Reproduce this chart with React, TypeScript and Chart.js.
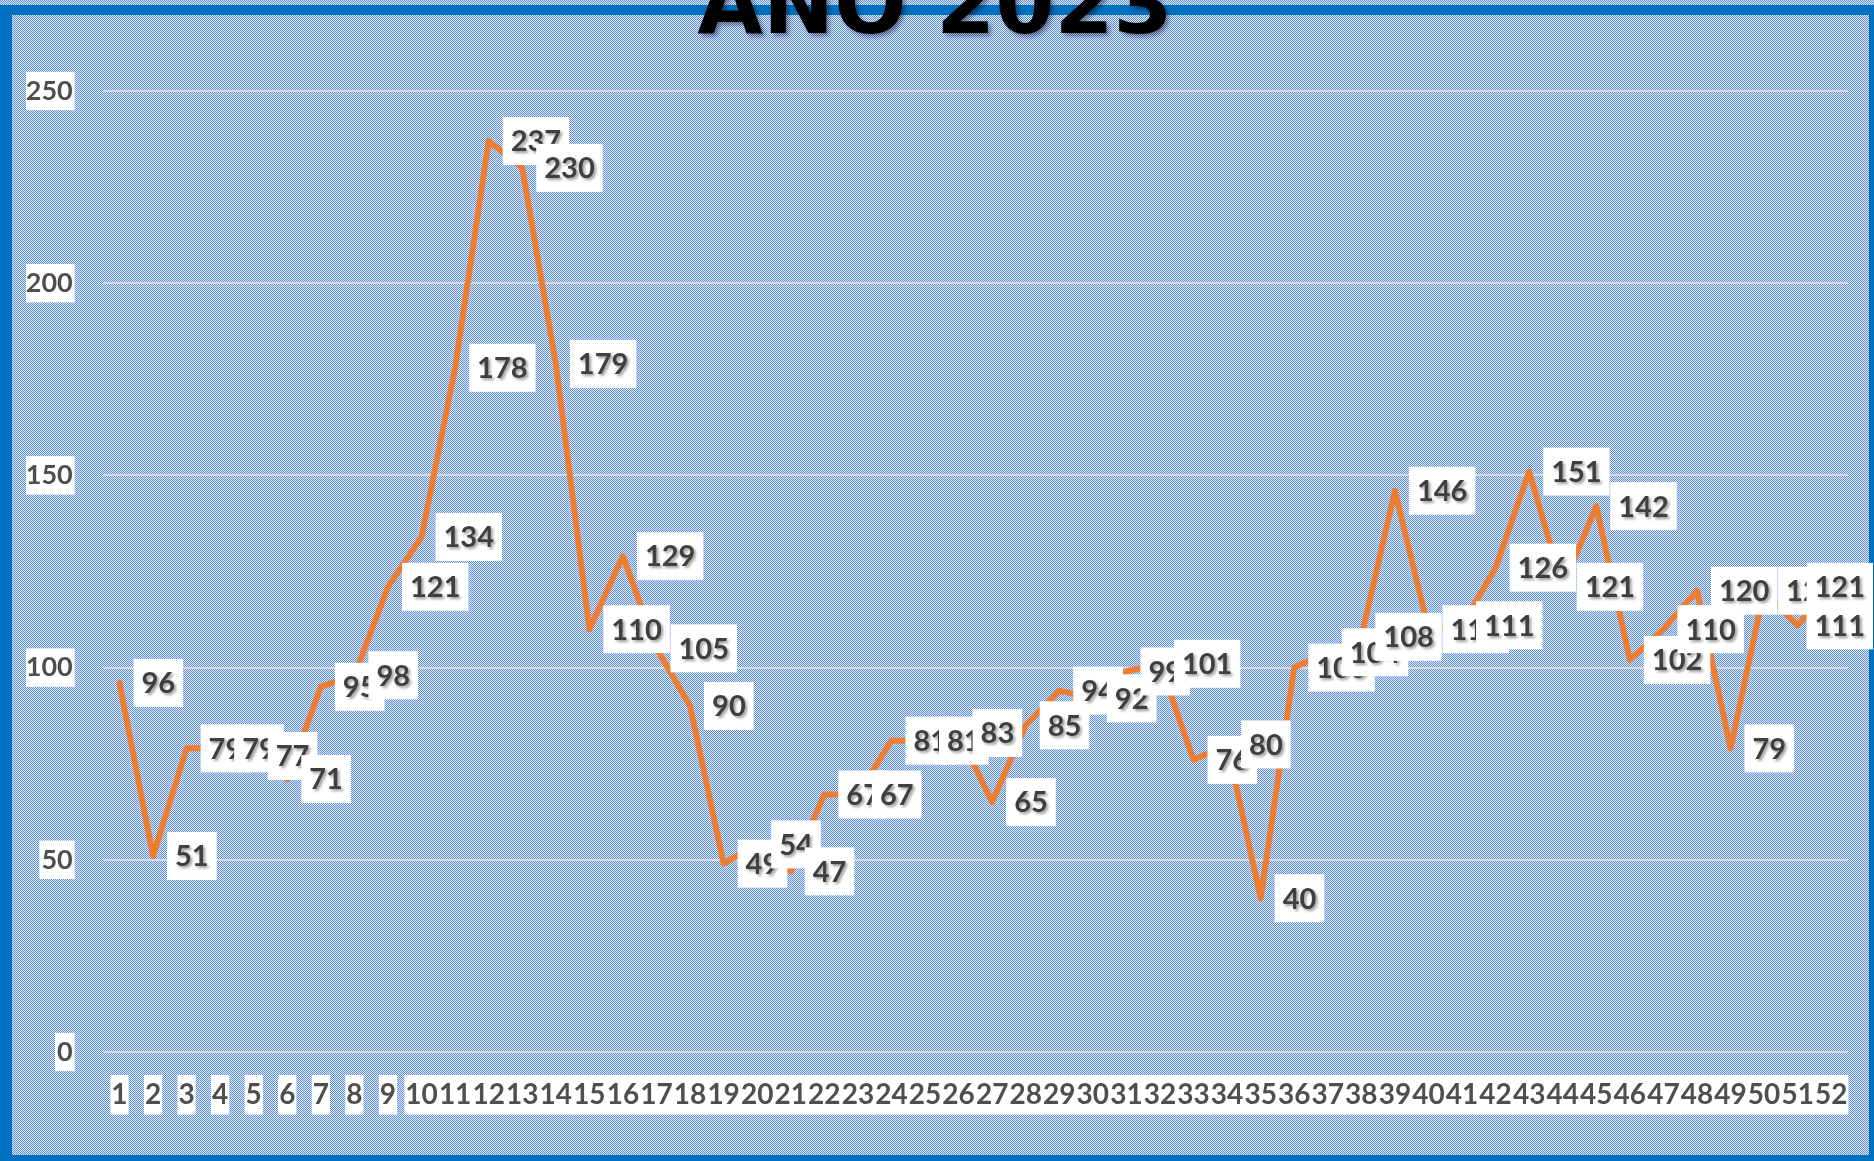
import React, { useEffect, useRef } from "react";
import { Chart, registerables } from "chart.js";

Chart.register(...registerables);

const TITLE = "ANO 2023";

const WEEKS = [
  "1", "2", "3", "4", "5", "6", "7", "8", "9", "10",
  "11", "12", "13", "14", "15", "16", "17", "18", "19", "20",
  "21", "22", "23", "24", "25", "26", "27", "28", "29", "30",
  "31", "32", "33", "34", "35", "36", "37", "38", "39", "40",
  "41", "42", "43", "44", "45", "46", "47", "48", "49", "50",
  "51", "52",
];

const VALUES = [
  96, 51, 79, 79, 77, 71, 95, 98, 121, 134,
  178, 237, 230, 179, 110, 129, 105, 90, 49, 54,
  47, 67, 67, 81, 81, 83, 65, 85, 94, 92,
  99, 101, 76, 80, 40, 100, 104, 108, 146, 110,
  111, 126, 151, 121, 142, 102, 110, 120, 79, 120,
  111, 121,
];

const Y_MIN = 0;
const Y_MAX = 250;
const Y_STEP = 50;

const W = 1874;
const H = 1161;

export default function App() {
  const ref = useRef<HTMLCanvasElement>(null);

  useEffect(() => {
    document.body.style.margin = "0";
    const canvas = ref.current;
    if (!canvas) return;

    const pc = document.createElement("canvas");
    pc.width = 2;
    pc.height = 2;
    const p = pc.getContext("2d")!;
    p.fillStyle = "#E4ECF8";
    p.fillRect(0, 0, 2, 2);
    p.fillStyle = "#5A8DDE";
    p.fillRect(0, 0, 1, 1);
    p.fillRect(1, 1, 1, 1);

    const bgPlugin = {
      id: "bgPlugin",
      beforeDraw(chart: any) {
        const ctx = chart.ctx as CanvasRenderingContext2D;
        ctx.save();
        const pat = ctx.createPattern(pc, "repeat");
        ctx.fillStyle = pat as any;
        ctx.fillRect(0, 0, W, H);
        ctx.fillStyle = "#0070C0";
        ctx.fillRect(0, 5, W, 10);
        ctx.fillRect(0, 5, 12, H - 5);
        ctx.fillRect(W - 5, 5, 5, H - 5);
        ctx.fillRect(0, H - 6, W, 6);
        ctx.restore();
      },
    };

    const labelPlugin = {
      id: "labelPlugin",
      afterDatasetsDraw(chart: any) {
        const ctx = chart.ctx as CanvasRenderingContext2D;
        const meta = chart.getDatasetMeta(0);
        ctx.save();
        ctx.font = "bold 29px Lato";
        ctx.textBaseline = "middle";
        ctx.textAlign = "left";
        meta.data.forEach((pt: any, i: number) => {
          const txt = String(VALUES[i]);
          const tw = ctx.measureText(txt).width;
          const bw = tw + 16;
          const bh = 48;
          let bx = pt.x + 14;
          if (bx + bw > W - 1) bx = W - 1 - bw;
          const by = pt.y - bh / 2;
          ctx.shadowColor = "transparent";
          ctx.fillStyle = "#FFFFFF";
          ctx.fillRect(bx, by, bw, bh);
          ctx.save();
          ctx.shadowColor = "rgba(0,0,0,0.4)";
          ctx.shadowOffsetX = 2;
          ctx.shadowOffsetY = 2;
          ctx.shadowBlur = 3;
          ctx.fillStyle = "#3F3F3F";
          ctx.fillText(txt, bx + 8, pt.y + 1);
          ctx.restore();
        });
        ctx.restore();
      },
    };

    const titlePlugin = {
      id: "titlePlugin",
      afterDraw(chart: any) {
        const ctx = chart.ctx as CanvasRenderingContext2D;
        ctx.save();
        ctx.font = "bold 85px 'DejaVu Sans'";
        ctx.textAlign = "center";
        ctx.textBaseline = "alphabetic";
        ctx.shadowColor = "rgba(0,0,0,0.4)";
        ctx.shadowOffsetX = 3;
        ctx.shadowOffsetY = 3;
        ctx.shadowBlur = 4;
        ctx.fillStyle = "#000000";
        ctx.fillText(TITLE, 935, 33);
        ctx.restore();
      },
    };

    const chart = new Chart(canvas, {
      type: "line",
      data: {
        labels: WEEKS,
        datasets: [
          {
            data: VALUES,
            borderColor: "#ED7D31",
            borderWidth: 6,
            pointRadius: 0,
            pointHoverRadius: 0,
            tension: 0,
            fill: false,
            borderJoinStyle: "round",
            borderCapStyle: "round",
          },
        ],
      },
      options: {
        responsive: false,
        animation: false,
        devicePixelRatio: 1,
        layout: { padding: { left: 26, right: 26, top: 91, bottom: 0 } },
        plugins: {
          legend: { display: false },
          tooltip: { enabled: false },
          title: { display: false },
        },
        scales: {
          x: {
            offset: true,
            grid: { display: false, drawTicks: false },
            border: { display: false },
            ticks: {
              autoSkip: false,
              maxRotation: 0,
              minRotation: 0,
              padding: 26,
              color: "#4F4F4F",
              font: { family: "Lato", weight: "bold", size: 28 },
              showLabelBackdrop: true,
              backdropColor: "#FFFFFF",
              backdropPadding: { top: 3, bottom: 3, left: 1, right: 1 },
            },
            afterFit(scale: any) {
              scale.height = 109;
            },
          },
          y: {
            min: Y_MIN,
            max: Y_MAX,
            ticks: {
              stepSize: Y_STEP,
              padding: 30,
              color: "#4F4F4F",
              font: { family: "Lato", weight: "bold", size: 27 },
              showLabelBackdrop: true,
              backdropColor: "#FFFFFF",
              backdropPadding: { top: 3, bottom: 3, left: 2, right: 2 },
            },
            grid: { color: "#D9D9D9", lineWidth: 2, drawTicks: false },
            border: { display: false },
            afterFit(scale: any) {
              scale.width = 76.7;
            },
          },
        },
      },
      plugins: [bgPlugin, labelPlugin, titlePlugin],
    } as any);

    return () => {
      chart.destroy();
    };
  }, []);

  return (
    <div style={{ width: W, height: H, overflow: "hidden" }}>
      <canvas ref={ref} width={W} height={H} style={{ display: "block", width: W, height: H }} />
    </div>
  );
}
